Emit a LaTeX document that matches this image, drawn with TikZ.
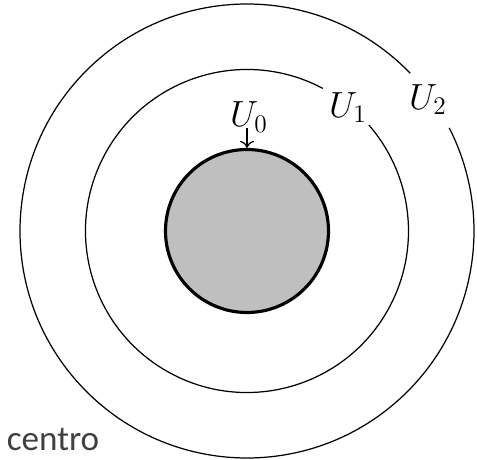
\documentclass[tikz,border=0pt]{standalone}
\usepackage{fontspec}
\newfontfamily\captionfont{Carlito}
\usetikzlibrary{arrows.meta, positioning}

\begin{document}
\begin{tikzpicture}[ring/.style={line width=0.7pt},
    lbl/.style={inner sep=1pt, font=\fontsize{20}{24}\selectfont}]
    \useasboundingbox (-4.94,-4.58) rectangle (4.60,4.62);
    \node [circle, draw, line width=1.8pt, fill=black!25, minimum size=3.26cm, inner sep=0pt] (core) at (0,0) {};
    \draw [ring] (62:3.23) arc (62:401:3.23);
    \draw [ring] (44:4.54) arc (44:387:4.54);
    \node [lbl] (u0) at (0.04,2.28) {$U_0$};
    \node [lbl] (u1) at (2.02,2.47) {$U_1$};
    \node [lbl] (u2) at (3.62,2.63) {$U_2$};
    \node [font=\captionfont\fontsize{20}{24}\selectfont, text=black!75, inner sep=0pt] (centro) at (-3.88,-4.18) {centro};

    \draw [-{To[length=4pt, width=8pt]}, line width=0.7pt] ([yshift=-1pt]core.north |- u0.base) -- (core.north);
\end{tikzpicture}
\end{document}
